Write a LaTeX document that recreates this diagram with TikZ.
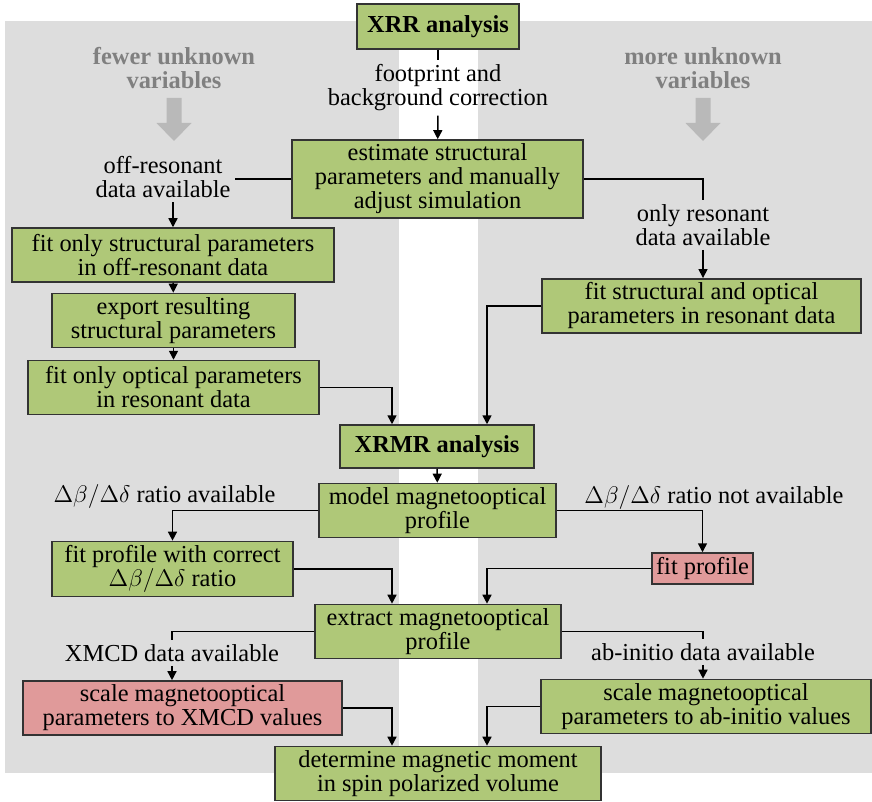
\documentclass[tikz,border=0pt]{standalone}
\usepackage{fontspec}
\setmainfont{Liberation Serif}
\usetikzlibrary{arrows.meta}

\definecolor{boxgreen}{RGB}{175,200,120}
\definecolor{boxred}{RGB}{224,154,154}
\definecolor{panelgray}{RGB}{221,221,221}
\definecolor{hintgray}{RGB}{128,128,128}
\definecolor{bigarrowgray}{RGB}{185,185,185}
\newcommand{\mainsize}{\fontsize{12.2pt}{12pt}\selectfont}
\newcommand{\ratio}{\(\Delta\beta/\Delta\delta\)}

\tikzset{
    box/.style={draw=black!80, fill=boxgreen, line width=0.75pt, align=center,
        inner sep=2pt, minimum height=27pt, font=\mainsize},
    redbox/.style={box, fill=boxred},
    lbl/.style={inner sep=2pt, align=center, font=\mainsize},
    hint/.style={inner sep=2pt, align=center, text=hintgray, font=\mainsize\bfseries},
    line/.style={line width=0.75pt},
    arr/.style={line, -{Triangle[length=4.5pt,width=4.5pt]}},
    bigarrow/.style={fill=bigarrowgray}
}

\begin{document}
\begin{tikzpicture}[x=0.5pt, y=-0.5pt]
    \useasboundingbox (0,0) rectangle (872,802);
    \fill[panelgray] (5,21) rectangle (399,773);
    \fill[panelgray] (478,21) rectangle (872,773);

    \node[hint] at (174,68)  (fewer) {fewer unknown\\variables};
    \node[hint] at (703,68)  (more)  {more unknown\\variables};
    \foreach \xa in {174,703} {
        \fill[bigarrow, shift={(\xa,98)}] (-7.5,0) -- (7.5,0) -- (7.5,25) -- (17.5,25)
            -- (0,43) -- (-17.5,25) -- (-7.5,25) -- cycle;
    }

    \node[box, minimum width=81pt, minimum height=22.5pt, font=\mainsize\bfseries]
        at (438,26.5) (xrr) {XRR analysis};
    \node[lbl] at (438,88) (fprint) {footprint and\\background correction};
    \node[box, minimum width=145.5pt, minimum height=39pt]
        at (437.5,179) (estimate) {estimate structural\\parameters and manually\\adjust simulation};
    \node[lbl] at (163,177) (offres) {off-resonant\\data available};
    \node[lbl] at (703,225) (onlyres) {only resonant\\data available};
    \node[box, minimum width=161pt]   at (173,255)   (fitstruct) {fit only structural parameters\\in off-resonant data};
    \node[box, minimum width=121.5pt] at (173.5,320.5) (export) {export resulting\\structural parameters};
    \node[box, minimum width=145.5pt] at (173.5,387.5) (fitopt) {fit only optical parameters\\in resonant data};
    \node[box, minimum width=159.5pt] at (701.5,306) (fitres) {fit structural and optical\\parameters in resonant data};

    \node[box, minimum width=97pt, minimum height=21.5pt, font=\mainsize\bfseries]
        at (437,446.5) (xrmr) {XRMR analysis};
    \node[box, minimum width=118.5pt] at (437.5,510.5) (model) {model magnetooptical\\profile};
    \node[lbl] at (164.5,496) (ratioyes) {\ratio{} ratio available};
    \node[lbl] at (714,497) (rationo) {\ratio{} ratio not available};
    \node[box, minimum width=120.5pt] at (172.5,569) (fitcorr) {fit profile with correct\\\ratio{} ratio};
    \node[redbox, minimum width=50.5pt, minimum height=15.5pt, inner sep=1pt]
        at (702.5,568.5) (fitprof) {fit profile};
    \node[box, minimum width=123pt] at (438,631.5) (extract) {extract magnetooptical\\profile};
    \node[lbl] at (172,653) (xmcdlbl) {XMCD data available};
    \node[lbl] at (703,652) (ablbl) {ab-initio data available};
    \node[redbox, minimum width=159.5pt] at (182.5,708) (scalexmcd) {scale magnetooptical\\parameters to XMCD values};
    \node[box, minimum width=165pt] at (706,706.5) (scaleab) {scale magnetooptical\\parameters to ab-initio values};
    \node[box, minimum width=163pt] at (438,773.5) (determine) {determine magnetic moment\\in spin polarized volume};

    \coordinate (colL) at (392,0);
    \coordinate (colR) at (487,0);

    \draw[line] (xrr) -- (fprint);
    \draw[arr] (fprint) -- (estimate);
    \draw[line] (estimate.west) -- (estimate.west -| offres.east);
    \draw[arr] (offres.south -| fitstruct.north) -- (fitstruct.north);
    \draw[line] (estimate.east) -| (onlyres.north);
    \draw[arr] (onlyres) -- (onlyres |- fitres.north);
    \draw[arr] (fitstruct) -- (export);
    \draw[arr] (export) -- (fitopt);
    \draw[arr] (fitopt.east) -| (colL |- xrmr.north);
    \draw[arr] (fitres.west) -| (colR |- xrmr.north);

    \draw[arr] (xrmr) -- (model);
    \draw[arr] (model.west) -| (fitcorr.north);
    \draw[arr] (model.east) -| (fitprof.north);
    \draw[arr] (fitcorr.east) -| (colL |- extract.north);
    \draw[arr] (fitprof.west) -| (colR |- extract.north);
    \draw[line] (extract.west) -| (xmcdlbl.north);
    \draw[arr] (xmcdlbl) -- (xmcdlbl |- scalexmcd.north);
    \draw[line] (extract.east) -| (ablbl.north);
    \draw[arr] (ablbl) -- (ablbl |- scaleab.north);
    \draw[arr] (scalexmcd.east) -| (colL |- determine.north);
    \draw[arr] (scaleab.west) -| (colR |- determine.north);
\end{tikzpicture}
\end{document}
